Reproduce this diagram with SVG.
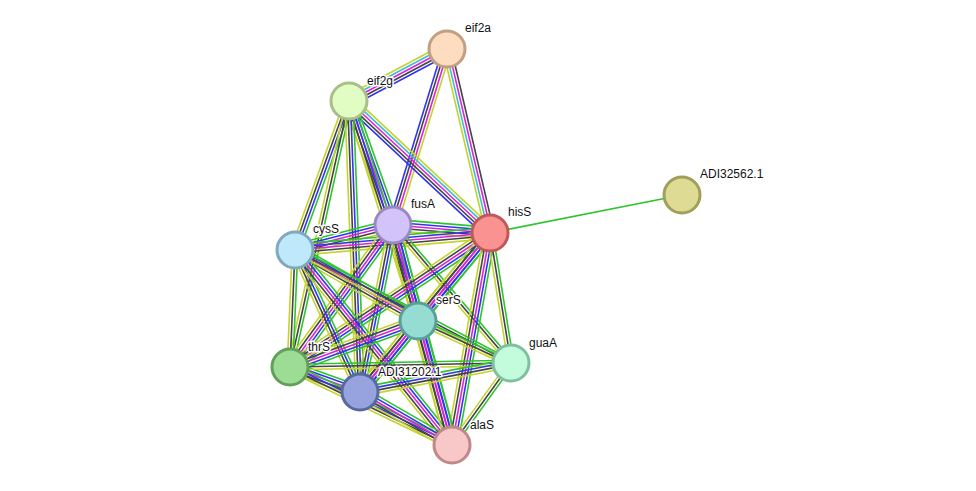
<svg xmlns="http://www.w3.org/2000/svg" xmlns:xlink="http://www.w3.org/1999/xlink" width="976" height="491" viewBox="0 0 976 491">
<style>
line{stroke-width:1.6;vector-effect:non-scaling-stroke;fill:none}
.g{stroke:#2ec42e}.b{stroke:#3434ee}.m{stroke:#dc22dc}.k{stroke:#444}.c{stroke:#3cbcd8}.y{stroke:#c4d42c}
circle{stroke-width:3}
text{font-family:"Liberation Sans",Arial,sans-serif;font-size:12px;fill:#111;stroke:#fff;stroke-width:3px;stroke-linejoin:round;paint-order:stroke}
</style>
<defs>
<g id="YCMKB"><line class="y" x1="0" x2="1" y1="-5.6" y2="-5.6"/><line class="c" x1="0" x2="1" y1="-2.8" y2="-2.8"/><line class="m" x1="0" x2="1" y1="0" y2="0"/><line class="k" x1="0" x2="1" y1="2.8" y2="2.8"/><line class="b" x1="0" x2="1" y1="5.6" y2="5.6"/></g>
<g id="YMKB"><line class="y" x1="0" x2="1" y1="-4.2" y2="-4.2"/><line class="m" x1="0" x2="1" y1="-1.4" y2="-1.4"/><line class="k" x1="0" x2="1" y1="1.4" y2="1.4"/><line class="b" x1="0" x2="1" y1="4.2" y2="4.2"/></g>
<g id="YCMK"><line class="y" x1="0" x2="1" y1="4.2" y2="4.2"/><line class="c" x1="0" x2="1" y1="1.4" y2="1.4"/><line class="m" x1="0" x2="1" y1="-1.4" y2="-1.4"/><line class="k" x1="0" x2="1" y1="-4.2" y2="-4.2"/></g>
<g id="GBMKY"><line class="g" x1="0" x2="1" y1="-5.6" y2="-5.6"/><line class="b" x1="0" x2="1" y1="-2.8" y2="-2.8"/><line class="m" x1="0" x2="1" y1="0" y2="0"/><line class="k" x1="0" x2="1" y1="2.8" y2="2.8"/><line class="y" x1="0" x2="1" y1="5.6" y2="5.6"/></g>
<g id="GBKY"><line class="g" x1="0" x2="1" y1="-4.2" y2="-4.2"/><line class="b" x1="0" x2="1" y1="-1.4" y2="-1.4"/><line class="k" x1="0" x2="1" y1="1.4" y2="1.4"/><line class="y" x1="0" x2="1" y1="4.2" y2="4.2"/></g>
<g id="GKY"><line class="g" x1="0" x2="1" y1="-2.8" y2="-2.8"/><line class="k" x1="0" x2="1" y1="0" y2="0"/><line class="y" x1="0" x2="1" y1="2.8" y2="2.8"/></g>
<g id="G"><line class="g" x1="0" x2="1" y1="0" y2="0"/></g>
</defs>
<rect width="976" height="491" fill="#fff"/>
<g id="edges">
<use href="#YCMKB" transform="translate(349 101) rotate(-27.95) scale(110.9 1)"/>
<use href="#YMKB" transform="translate(447 49) rotate(107.06) scale(184.1 1)"/>
<use href="#YCMK" transform="translate(447 49) rotate(76.85) scale(189 1)"/>
<use href="#YCMKB" transform="translate(349 101) rotate(43.11) scale(193.1 1)"/>
<use href="#GBMKY" transform="translate(349 101) rotate(70.46) scale(131.6 1)"/>
<use href="#GBKY" transform="translate(349 101) rotate(109.92) scale(158.5 1)"/>
<use href="#GBKY" transform="translate(349 101) rotate(72.51) scale(229.6 1)"/>
<use href="#GKY" transform="translate(349 101) rotate(102.51) scale(272.5 1)"/>
<use href="#GBKY" transform="translate(349 101) rotate(87.84) scale(291.2 1)"/>
<use href="#GBMKY" transform="translate(393 225) rotate(4.71) scale(97.3 1)"/>
<use href="#GBMKY" transform="translate(295 250) rotate(-14.31) scale(101.1 1)"/>
<use href="#GBMKY" transform="translate(295 250) rotate(-4.98) scale(195.7 1)"/>
<use href="#GBMKY" transform="translate(393 225) rotate(75.26) scale(98.2 1)"/>
<use href="#GBMKY" transform="translate(393 225) rotate(125.96) scale(175.4 1)"/>
<use href="#GBKY" transform="translate(393 225) rotate(101.18) scale(170.2 1)"/>
<use href="#GBMKY" transform="translate(393 225) rotate(74.99) scale(227.8 1)"/>
<use href="#GKY" transform="translate(393 225) rotate(49.47) scale(181.6 1)"/>
<use href="#GBMKY" transform="translate(490 233) rotate(129.61) scale(112.9 1)"/>
<use href="#GBMKY" transform="translate(490 233) rotate(146.18) scale(240.7 1)"/>
<use href="#GBMKY" transform="translate(490 233) rotate(129.27) scale(205.4 1)"/>
<use href="#GBMKY" transform="translate(490 233) rotate(100.16) scale(215.4 1)"/>
<use href="#GKY" transform="translate(490 233) rotate(80.82) scale(131.7 1)"/>
<use href="#G" transform="translate(490 233) rotate(-11.2) scale(195.7 1)"/>
<use href="#GBMKY" transform="translate(295 250) rotate(29.64) scale(141.5 1)"/>
<use href="#GKY" transform="translate(295 250) rotate(92.45) scale(117.1 1)"/>
<use href="#GBKY" transform="translate(295 250) rotate(65.4) scale(156.2 1)"/>
<use href="#GBMKY" transform="translate(295 250) rotate(51.16) scale(250.3 1)"/>
<use href="#GKY" transform="translate(295 250) rotate(27.61) scale(243.8 1)"/>
<use href="#GBMKY" transform="translate(418 321) rotate(159.84) scale(136.4 1)"/>
<use href="#GBMKY" transform="translate(418 321) rotate(128.85) scale(92.5 1)"/>
<use href="#GBMKY" transform="translate(418 321) rotate(74.78) scale(129.5 1)"/>
<use href="#GKY" transform="translate(418 321) rotate(24.81) scale(102.5 1)"/>
<use href="#GBMKY" transform="translate(290 367) rotate(19.65) scale(74.3 1)"/>
<use href="#GBKY" transform="translate(290 367) rotate(25.71) scale(179.8 1)"/>
<use href="#GKY" transform="translate(290 367) rotate(-1.04) scale(221 1)"/>
<use href="#GBKY" transform="translate(360 392) rotate(-10.87) scale(153.8 1)"/>
<use href="#GBMKY" transform="translate(360 392) rotate(29.94) scale(106.2 1)"/>
<use href="#GKY" transform="translate(511 363) rotate(125.73) scale(101 1)"/>
</g>
<g id="eif2a"><circle cx="447" cy="49" r="18" fill="#fddcc0" stroke="#c0a080"/><text x="465" y="32">eif2a</text></g>
<g id="eif2g"><circle cx="349" cy="101" r="18" fill="#e2fdc4" stroke="#a8c088"/><text x="367" y="85">eif2g</text></g>
<g id="fusA"><circle cx="393" cy="225" r="18" fill="#d3c3fb" stroke="#9a88c0"/><text x="411" y="208">fusA</text></g>
<g id="hisS"><circle cx="490" cy="233" r="18" fill="#fb9292" stroke="#c05858"/><text x="508" y="216">hisS</text></g>
<g id="ADI32562.1"><circle cx="682" cy="195" r="18" fill="#dedb94" stroke="#a0a058"/><text x="700" y="178">ADI32562.1</text></g>
<g id="cysS"><circle cx="295" cy="250" r="18" fill="#c0e8fb" stroke="#80a8c0"/><text x="313" y="233">cysS</text></g>
<g id="serS"><circle cx="418" cy="321" r="18" fill="#95dcd3" stroke="#58a098"/><text x="436" y="304">serS</text></g>
<g id="thrS"><circle cx="290" cy="367" r="18" fill="#9ddc94" stroke="#60a058"/><text x="308" y="351">thrS</text></g>
<g id="ADI31202.1"><circle cx="360" cy="392" r="18" fill="#97a3de" stroke="#5868a0"/><text x="378" y="376">ADI31202.1</text></g>
<g id="guaA"><circle cx="511" cy="363" r="18" fill="#c2fcdc" stroke="#80c0a0"/><text x="529" y="347">guaA</text></g>
<g id="alaS"><circle cx="452" cy="445" r="18" fill="#f8c8c8" stroke="#c08888"/><text x="470" y="429">alaS</text></g>
</svg>
